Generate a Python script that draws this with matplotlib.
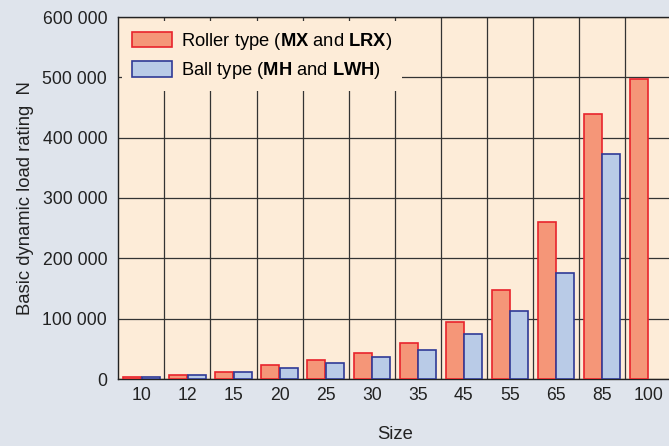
import numpy as np
import matplotlib
matplotlib.use("Agg")
import matplotlib.pyplot as plt
from matplotlib.ticker import FuncFormatter

# data
sizes = ['10', '12', '15', '20', '25', '30', '35', '45', '55', '65', '85', '100']
roller = [3300, 6000, 12000, 23500, 32000, 43500, 59000, 95000, 147500, 260000, 440000, 498000]
ball = [3000, 7000, 12000, 18500, 26000, 36000, 48500, 74000, 112000, 175000, 373000, np.nan]

plt.rcParams['font.family'] = ['Liberation Sans', 'DejaVu Sans']
plt.rcParams['mathtext.fontset'] = 'custom'
plt.rcParams['mathtext.rm'] = 'Liberation Sans'
plt.rcParams['mathtext.bf'] = 'Liberation Sans:bold'

fig = plt.figure(figsize=(6.69, 4.46), dpi=100)
fig.patch.set_facecolor('#dfe4ec')
ax = fig.add_axes([118.3 / 669, 67 / 446, 553 / 669, 362 / 446])
ax.set_facecolor('#fdecd8')

x = np.arange(len(sizes))
w = 0.39
ax.bar(x - 0.2, roller, w, color='#f59678', edgecolor='#e8232c', linewidth=1.2,
       label=r'Roller type ($\mathbf{MX}$ and $\mathbf{LRX}$)', zorder=3)
ax.bar(x + 0.2, ball, w, color='#b9cbe7', edgecolor='#2f3a96', linewidth=1.2,
       label=r'Ball type ($\mathbf{MH}$ and $\mathbf{LWH}$)', zorder=3)

ax.set_xlim(-0.5, len(sizes) - 0.5)
ax.set_ylim(0, 600000)
ax.set_xticks(x)
ax.set_xticklabels(sizes)
ax.set_xticks(np.arange(len(sizes)) + 0.5, minor=True)
ax.set_yticks(np.arange(0, 600001, 100000))
ax.yaxis.set_major_formatter(FuncFormatter(lambda v, p: f'{int(v):,}'.replace(',', ' ')))
ax.tick_params(axis='both', which='both', length=0, labelsize=12.7, colors='#222222')
ax.tick_params(axis='y', pad=8)
ax.tick_params(axis='x', pad=6)

ax.grid(axis='y', which='major', color='#333333', linewidth=0.9, zorder=1)
ax.grid(axis='x', which='minor', color='#333333', linewidth=0.9, zorder=1)
ax.set_axisbelow(True)
for s in ax.spines.values():
    s.set_color('#222222')
    s.set_linewidth(1.0)

ax.set_ylabel('Basic dynamic load rating  N', fontsize=13.3, color='#222222')
ax.yaxis.set_label_coords(-0.152, 0.5)
ax.set_xlabel('Size', fontsize=13.3, color='#222222')
ax.xaxis.set_label_coords((395 - 118.3) / 553, -0.13)

leg = ax.legend(loc='upper left', fontsize=13.2, frameon=True, facecolor='#fdecd8',
                edgecolor='none', framealpha=1, handlelength=2.2, handleheight=0.95,
                borderaxespad=0.2, labelspacing=0.45, handletextpad=0.45,
                borderpad=0.55)
leg.get_frame().set_boxstyle('square', pad=0.0)
leg.set_zorder(5)

fig.savefig('out.png', dpi=100, facecolor=fig.get_facecolor())
